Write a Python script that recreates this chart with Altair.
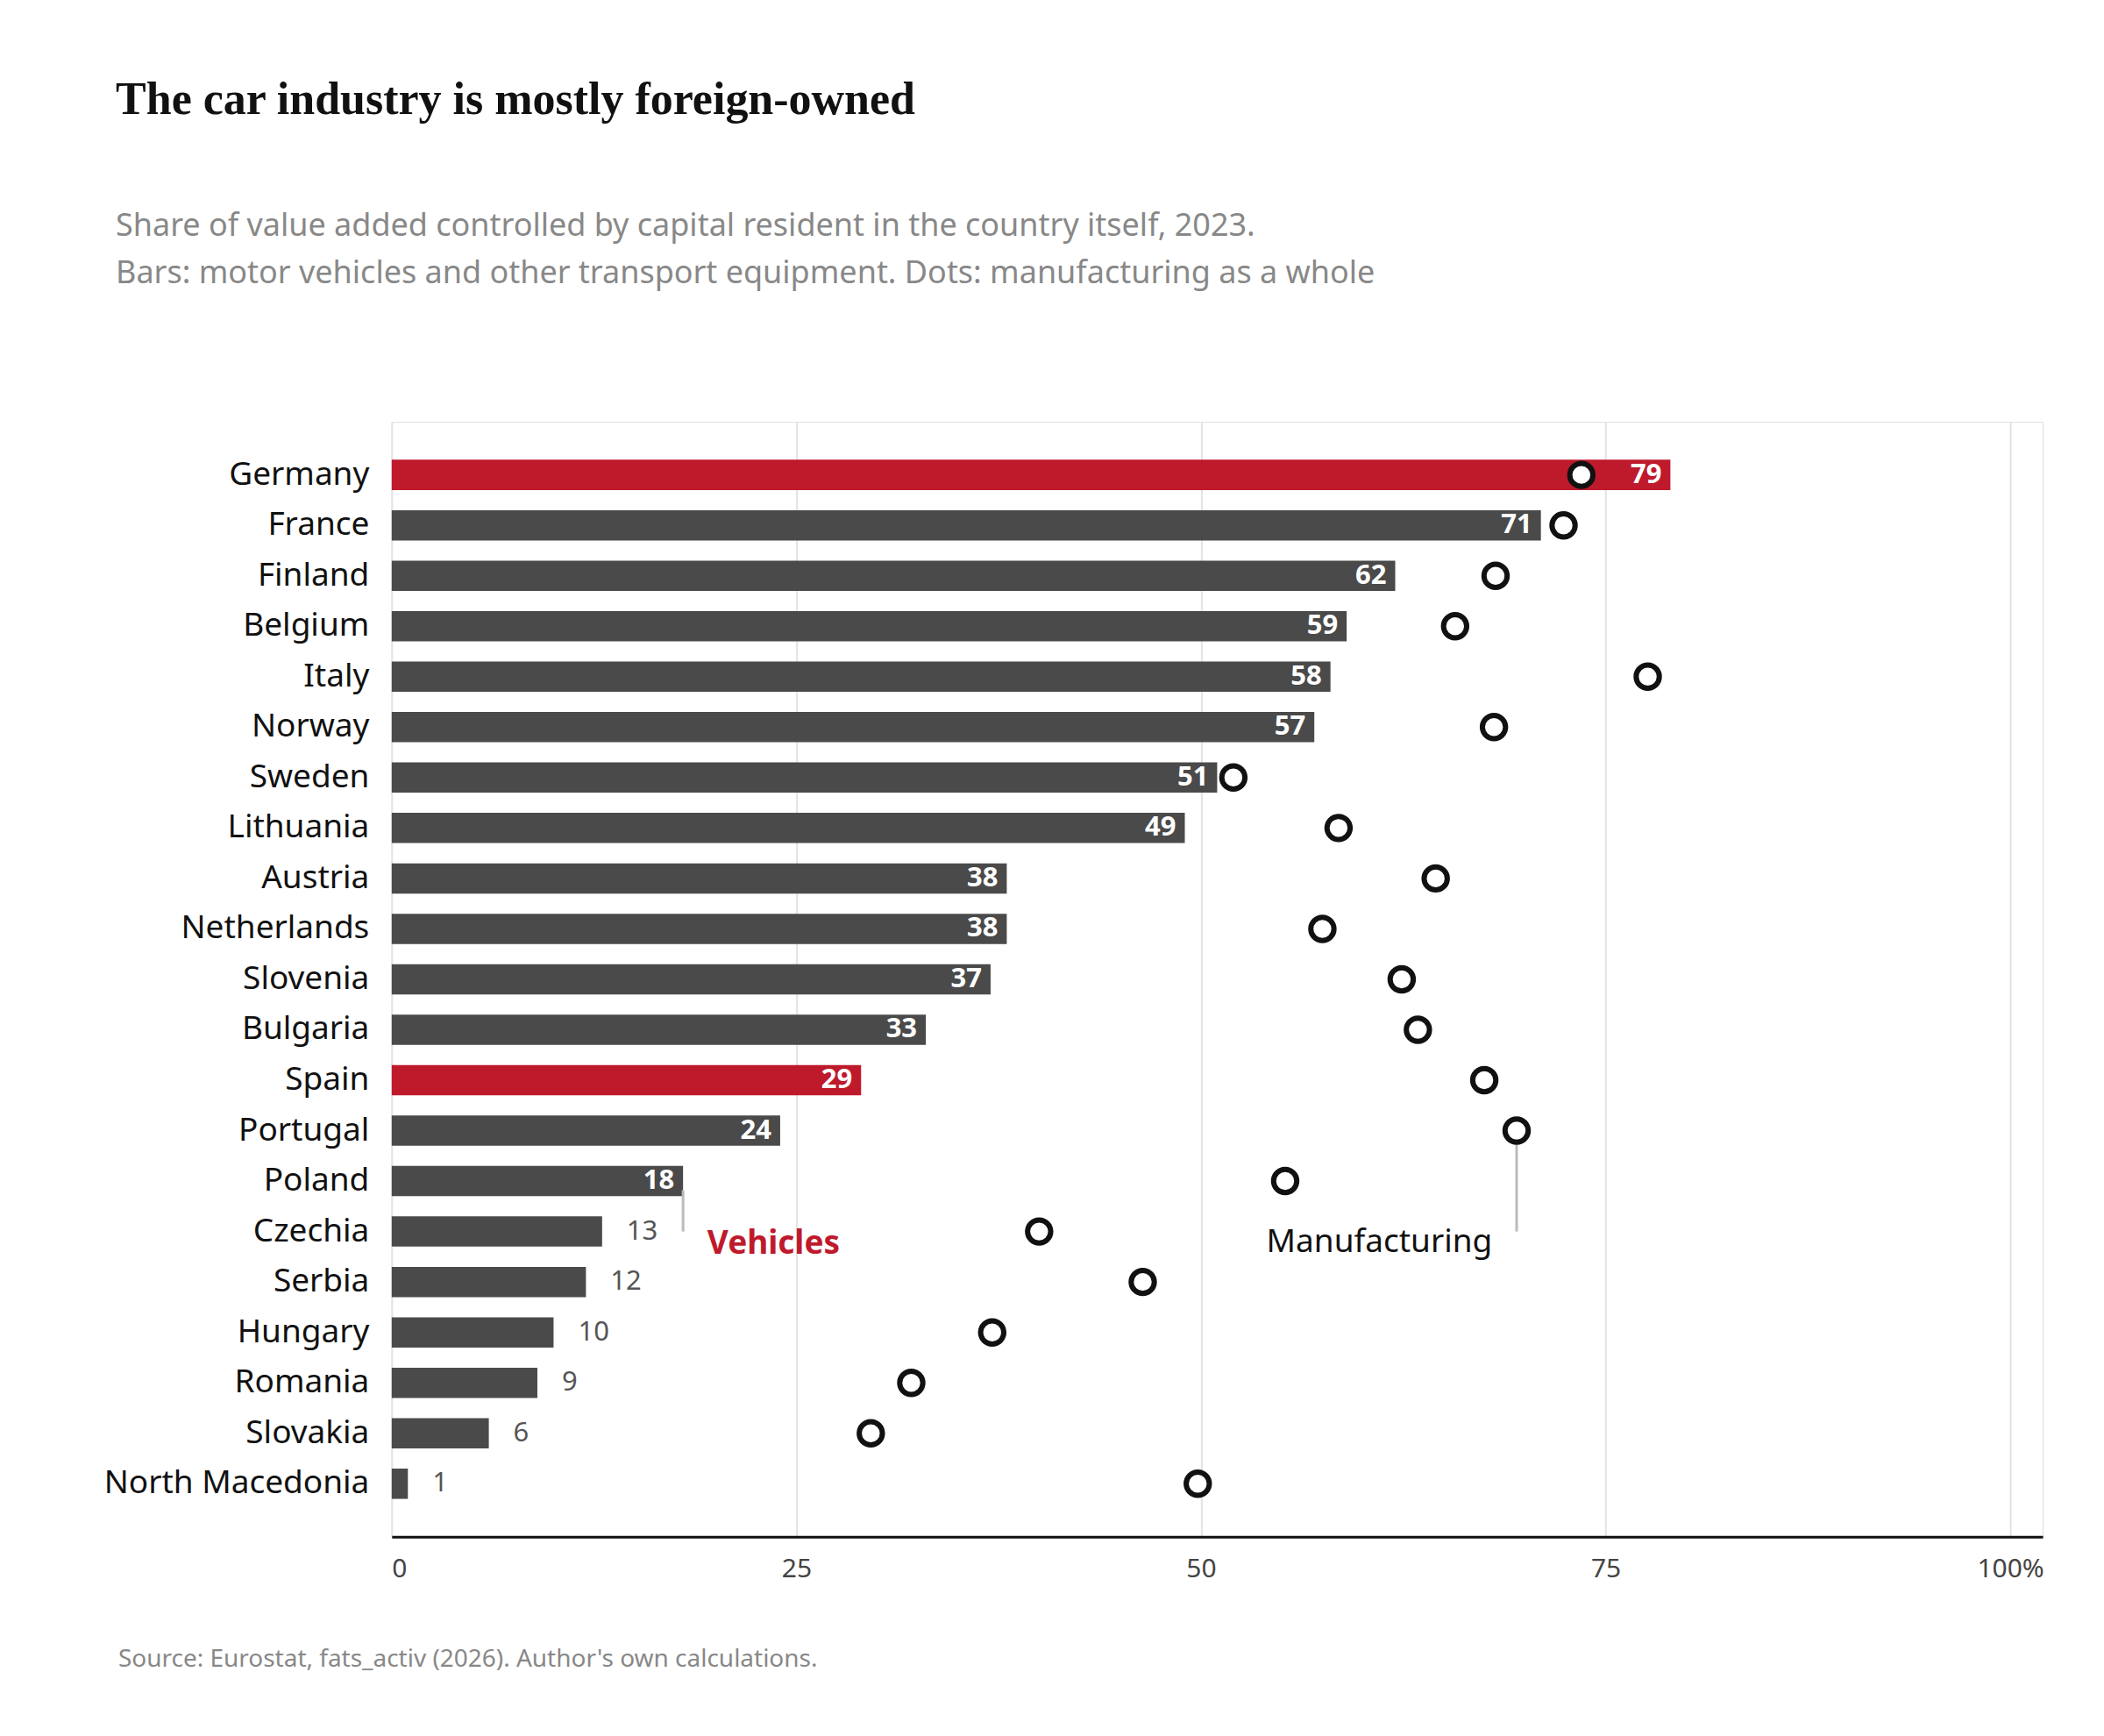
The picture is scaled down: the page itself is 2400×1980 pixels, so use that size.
import pandas as pd
import altair as alt

countries = ["Germany", "France", "Finland", "Belgium", "Italy", "Norway", "Sweden",
             "Lithuania", "Austria", "Netherlands", "Slovenia", "Bulgaria", "Spain",
             "Portugal", "Poland", "Czechia", "Serbia", "Hungary", "Romania",
             "Slovakia", "North Macedonia"]
vehicles = [79, 71, 62, 59, 58, 57, 51, 49, 38, 38, 37, 33, 29, 24, 18, 13, 12, 10, 9, 6, 1]
manufacturing = [73.5, 72.4, 68.2, 65.7, 77.6, 68.1, 52.0, 58.5, 64.5, 57.5, 62.4,
                 63.4, 67.5, 69.5, 55.2, 40.0, 46.4, 37.1, 32.1, 29.6, 49.8]
highlight = ["Germany", "Spain"]
ticks = [0, 25, 50, 75, 100]

RED = "#be1a2c"
DARK = "#4a4a4a"
FONT = "Noto Sans"
W, H = 1884, 1272

df = pd.DataFrame({"country": countries, "veh": vehicles, "man": manufacturing})
df["hl"] = df["country"].isin(highlight)
df["inside"] = df["veh"] >= 18

yscale = alt.Scale(domain=countries, paddingInner=0.4, paddingOuter=0.75)
y = alt.Y("country:N", title=None, scale=yscale,
          axis=alt.Axis(domain=False, ticks=False, labelFontSize=37, labelFont=FONT,
                        labelColor="#111", labelPadding=26, labelLimit=0))
yc = alt.Y("country:N", scale=yscale)
x = alt.X("veh:Q", title=None,
          scale=alt.Scale(domain=[0, 102], nice=False),
          axis=alt.Axis(values=ticks, grid=True, gridColor="#e3e3e3", gridWidth=2,
                        domainColor="#111", domainWidth=3, ticks=False,
                        labelFontSize=30, labelFont=FONT, labelColor="#444",
                        labelPadding=22,
                        labelExpr="datum.value == 100 ? '100%' : datum.label"))

base = alt.Chart(df)

bars = base.mark_bar().encode(
    x=x, y=y,
    color=alt.condition("datum.hl", alt.value(RED), alt.value(DARK)),
)

dots = base.mark_point(filled=False, fill="white", fillOpacity=1, stroke="#111",
                       strokeWidth=6, size=700, opacity=1).encode(x="man:Q", y=yc)

lab_in = base.transform_filter("datum.inside").mark_text(
    align="right", dx=-10, font=FONT, fontSize=31, fontWeight="bold", color="white"
).encode(x="veh:Q", y=yc, text="veh:Q")

lab_out = base.transform_filter("!datum.inside").mark_text(
    align="left", dx=28, font=FONT, fontSize=31, color="#555"
).encode(x="veh:Q", y=yc, text="veh:Q")

# annotation leader lines and labels
vline = alt.Chart(pd.DataFrame({"x": [18], "country": ["Poland"], "c2": ["Czechia"]})).mark_rule(
    color="#bbbbbb", strokeWidth=3).encode(
    x="x:Q", y=alt.Y("country:N", scale=yscale, bandPosition=0.8),
    y2=alt.Y2("c2:N", bandPosition=0.5))
mline = alt.Chart(pd.DataFrame({"x": [69.5], "country": ["Portugal"], "c2": ["Czechia"]})).mark_rule(
    color="#bbbbbb", strokeWidth=3).encode(
    x="x:Q", y=alt.Y("country:N", scale=yscale, bandPosition=0.85),
    y2=alt.Y2("c2:N", bandPosition=0.5))

vtext = alt.Chart(pd.DataFrame({"x": [19.5], "country": ["Czechia"], "t": ["Vehicles"]})).mark_text(
    align="left", baseline="middle", dy=14, font=FONT, fontSize=37, fontWeight="bold",
    color=RED).encode(x="x:Q", y=yc, text="t:N")
mtext = alt.Chart(pd.DataFrame({"x": [68.0], "country": ["Czechia"], "t": ["Manufacturing"]})).mark_text(
    align="right", baseline="middle", dy=12, font=FONT, fontSize=37,
    color="#111").encode(x="x:Q", y=yc, text="t:N")

source = alt.Chart(pd.DataFrame({"t": ["Source: Eurostat, fats_activ (2026). Author's own calculations."]})).mark_text(
    align="left", baseline="middle", font=FONT, fontSize=28, color="#888"
).encode(x=alt.value(-312), y=alt.value(H + 140), text="t:N")

chart = (
    alt.layer(bars, vline, mline, dots, lab_in, lab_out, vtext, mtext, source)
    .properties(
        width=W, height=H,
        padding={"left": 110, "top": 80, "right": 60, "bottom": 80},
        title=alt.TitleParams(
            "The car industry is mostly foreign-owned",
            subtitle=["Share of value added controlled by capital resident in the country itself, 2023.",
                      "Bars: motor vehicles and other transport equipment. Dots: manufacturing as a whole"],
            anchor="start", frame="bounds", dx=14, offset=150,
            font="Liberation Serif", fontSize=52, fontWeight="bold", color="#111",
            subtitleFont=FONT, subtitleFontSize=36, subtitleColor="#888",
            subtitlePadding=100, subtitleLineHeight=54,
        ),
    )
    .configure_view(strokeWidth=0)
    .configure(background="white")
)

chart.save("out.html", embed_options={"renderer": "svg", "actions": False})
